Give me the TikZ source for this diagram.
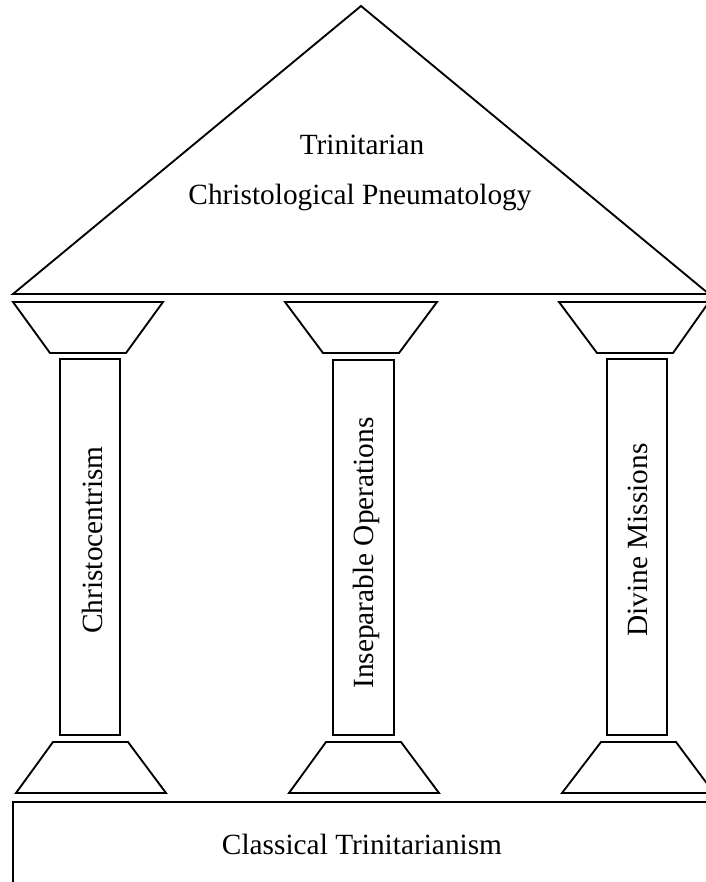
\documentclass[tikz,border=0pt]{standalone}
\usepackage{fontspec}
\setmainfont{Liberation Serif}
\begin{document}
\begin{tikzpicture}[x=0.75pt,y=-0.75pt,
  part/.style={draw=black,line width=1.4pt,line join=miter},
  lbl/.style={font=\fontsize{22}{26}\selectfont,inner sep=0pt},
  vlbl/.style={lbl,rotate=90,anchor=base}]
\useasboundingbox (0,0) rectangle (706,882);
\clip (0,0) rectangle (706,882);
% roof
\draw[part] (13,294) -- (361,6) -- (709,294) -- cycle;
% capitals
\draw[part] (13,302) -- (163,302) -- (126,353) -- (50,353) -- cycle;
\draw[part] (285,302) -- (437,302) -- (399,353) -- (323,353) -- cycle;
\draw[part] (559,302) -- (709,302) -- (673,353) -- (597,353) -- cycle;
% shafts
\draw[part] (60,359) rectangle (120,735);
\draw[part] (333,360) rectangle (394,735);
\draw[part] (607,359) rectangle (667,735);
% bases
\draw[part] (53,742) -- (128,742) -- (166,793) -- (16,793) -- cycle;
\draw[part] (326,742) -- (401,742) -- (439,793) -- (289,793) -- cycle;
\draw[part] (601,742) -- (676,742) -- (714,793) -- (562,793) -- cycle;
% foundation
\draw[part] (13,802) rectangle (730,900);
% texts
\node[lbl,anchor=base] (t1) at (362,154) {Trinitarian};
\node[lbl,anchor=base] (t2) at (360,204) {Christological Pneumatology};
\node[vlbl] (c1) at (102,540) {Christocentrism};
\node[vlbl] (c2) at (373,553) {Inseparable Operations};
\node[vlbl] (c3) at (647,540) {Divine Missions};
\node[lbl,anchor=base] (f) at (362,854) {Classical Trinitarianism};
\end{tikzpicture}
\end{document}
